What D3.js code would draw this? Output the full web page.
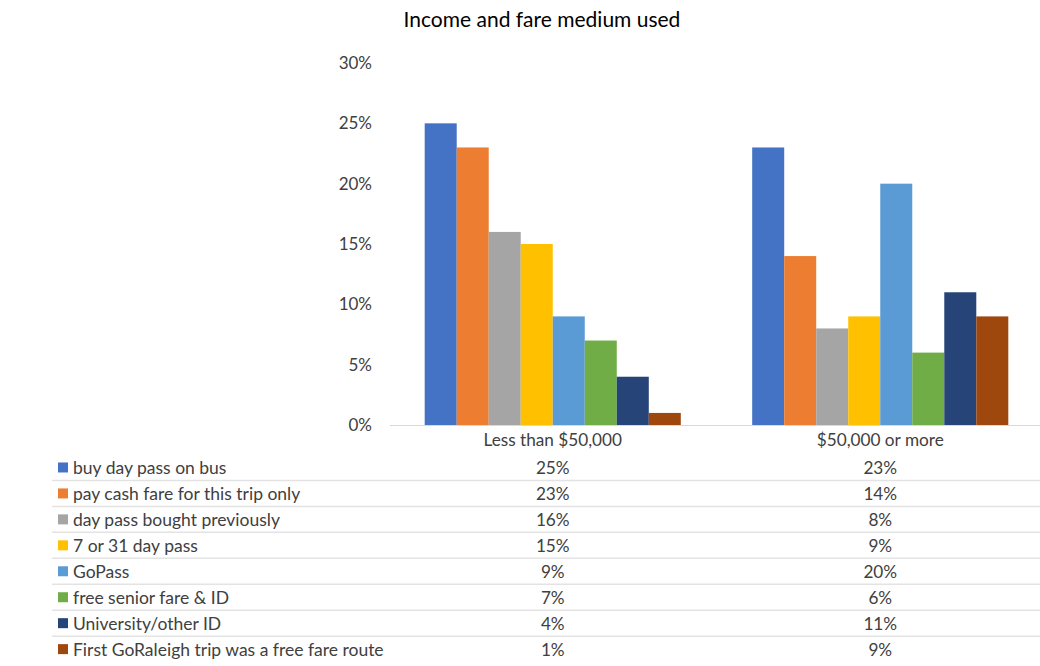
<!DOCTYPE html>
<html>
<head>
<meta charset="utf-8">
<script src="https://cdn.jsdelivr.net/npm/d3@7"></script>
<style>
  html, body { margin: 0; padding: 0; background: #fff; }
  svg { display: block; font-family: Lato, "Liberation Sans", sans-serif; }
</style>
</head>
<body>
<svg id="chart" width="1040" height="666"></svg>
<script>
// Income groups (categories on the x axis / table columns)
const categories = ["Less than $50,000", "$50,000 or more"];

// Fare media (series), with their colours
const series = [
  "buy day pass on bus",
  "pay cash fare for this trip only",
  "day pass bought previously",
  "7 or 31 day pass",
  "GoPass",
  "free senior fare & ID",
  "University/other ID",
  "First GoRaleigh trip was a free fare route"
];
const colors = ["#4472C4", "#ED7D31", "#A5A5A5", "#FFC000", "#5B9BD5", "#70AD47", "#264478", "#9E480E"];

// Share of riders in each income group using each fare medium
const lessThan50k = [0.25, 0.23, 0.16, 0.15, 0.09, 0.07, 0.04, 0.01];
const moreThan50k = [0.23, 0.14, 0.08, 0.09, 0.20, 0.06, 0.11, 0.09];

const yTicks = [0, 0.05, 0.10, 0.15, 0.20, 0.25, 0.30];

const values = [lessThan50k, moreThan50k];

const svg = d3.select("#chart");
const textColor = "#404040";
const gridColor = "#D9D9D9";

// Title
svg.append("text")
  .attr("x", 542).attr("y", 18)
  .attr("text-anchor", "middle")
  .attr("dominant-baseline", "central")
  .attr("fill", "#000")
  .style("font-size", "21px")
  .text("Income and fare medium used");

// Scales
const x0 = d3.scaleBand()
  .domain(categories)
  .range([389, 1044])
  .paddingInner(0.218)
  .paddingOuter(0.109);

const x1 = d3.scaleBand()
  .domain(d3.range(series.length))
  .range([0, x0.bandwidth()]);

const y = d3.scaleLinear().domain([0, 0.30]).range([425, 63]);

// Y axis labels (no axis line, no gridlines)
const yAxis = d3.axisLeft(y)
  .tickValues(yTicks)
  .tickFormat(d3.format(".0%"))
  .tickSize(0)
  .tickPadding(0);

svg.append("g")
  .attr("transform", "translate(372,0)")
  .call(yAxis)
  .call(g => g.select(".domain").remove())
  .call(g => g.selectAll("text")
    .attr("fill", textColor)
    .style("font-size", "17px")
    .style("font-family", "Lato, 'Liberation Sans', sans-serif"));

// Bars
const groups = svg.append("g")
  .selectAll("g")
  .data(categories)
  .join("g")
  .attr("transform", d => `translate(${x0(d)},0)`);

groups.selectAll("rect")
  .data((c, ci) => values[ci].map((v, si) => ({ v, si })))
  .join("rect")
  .attr("x", d => x1(d.si))
  .attr("width", x1.bandwidth())
  .attr("y", d => y(d.v))
  .attr("height", d => y(0) - y(d.v))
  .attr("fill", d => colors[d.si]);

// Category axis line
svg.append("line")
  .attr("x1", 390).attr("x2", 1040)
  .attr("y1", y(0) + 0.5).attr("y2", y(0) + 0.5)
  .attr("stroke", gridColor).attr("stroke-width", 1.2);

// Category labels (header of the data table)
svg.append("g")
  .selectAll("text")
  .data(categories)
  .join("text")
  .attr("x", d => x0(d) + x0.bandwidth() / 2)
  .attr("y", 439)
  .attr("text-anchor", "middle")
  .attr("dominant-baseline", "central")
  .attr("fill", textColor)
  .style("font-size", "17.2px")
  .text(d => d);

// Data table
const rowTop = 454.5;
const rowH = 25.95;
const table = svg.append("g");

// Separators between rows
table.selectAll("line.sep")
  .data(d3.range(1, series.length))
  .join("line")
  .attr("class", "sep")
  .attr("x1", 52).attr("x2", 1040)
  .attr("y1", i => rowTop + i * rowH)
  .attr("y2", i => rowTop + i * rowH)
  .attr("stroke", "#E3E3E3").attr("stroke-width", 1.5);

const rows = table.selectAll("g.row")
  .data(series)
  .join("g")
  .attr("class", "row")
  .attr("transform", (d, i) => `translate(0,${rowTop + i * rowH + rowH / 2})`);

rows.append("rect")
  .attr("x", 58).attr("y", -5)
  .attr("width", 10).attr("height", 10)
  .attr("fill", (d, i) => colors[i]);

rows.append("text")
  .attr("x", 73).attr("y", 0)
  .attr("dominant-baseline", "central")
  .attr("fill", textColor)
  .style("font-size", "17.5px")
  .text(d => d);

rows.each(function(d, si) {
  d3.select(this).selectAll("text.val")
    .data(categories)
    .join("text")
    .attr("class", "val")
    .attr("x", c => x0(c) + x0.bandwidth() / 2)
    .attr("y", 0)
    .attr("text-anchor", "middle")
    .attr("dominant-baseline", "central")
    .attr("fill", textColor)
    .style("font-size", "17.2px")
    .text((c, ci) => d3.format(".0%")(values[ci][si]));
});
</script>
</body>
</html>
